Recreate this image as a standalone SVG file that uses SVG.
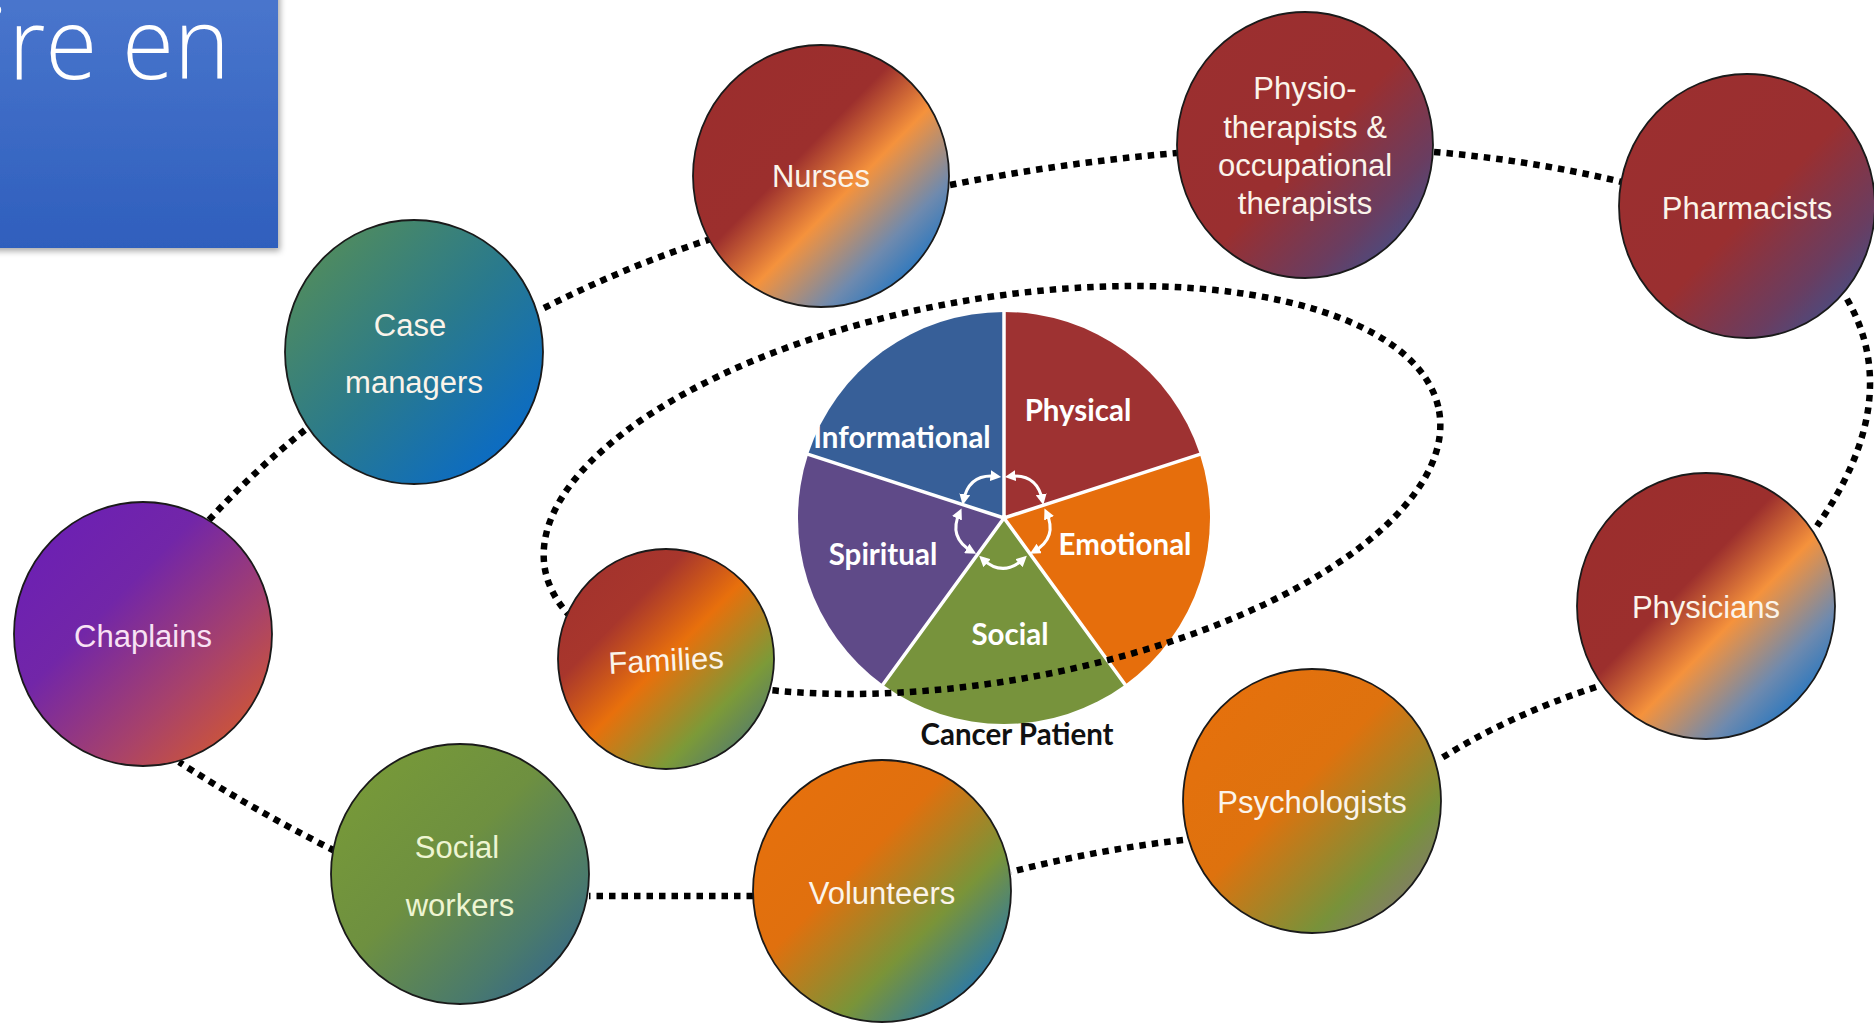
<svg xmlns="http://www.w3.org/2000/svg" width="1874" height="1024" viewBox="0 0 1874 1024">
<defs>
<style>
.node-ring{stroke:#1a1a1a;stroke-width:1.8}
.lbl{font-family:"Liberation Sans",Arial,sans-serif;font-size:31px;fill:#fbf4ea;text-anchor:middle}
.pie-lbl{font-family:Lato,"Open Sans",sans-serif;font-weight:bold;font-size:29.5px;fill:#ffffff;text-anchor:middle}
.conn{fill:none;stroke:#000;stroke-width:6.5;stroke-dasharray:6.5 6}
.sep{stroke:#ffffff;stroke-width:3.5;fill:none}
.arr{fill:none;stroke:#ffffff;stroke-width:3;marker-start:url(#ah);marker-end:url(#ah)}
</style>
<marker id="ah" viewBox="0 0 10 10" refX="6" refY="5" markerWidth="3.6" markerHeight="3.6" orient="auto-start-reverse" markerUnits="strokeWidth">
<path d="M0,0 L10,5 L0,10 z" fill="#ffffff"/>
</marker>
<linearGradient id="gTitle" x1="0" y1="0" x2="0" y2="1">
<stop offset="0" stop-color="#4a76cd"/>
<stop offset="1" stop-color="#2f5fbd"/>
</linearGradient>
<filter id="shadow" x="-10%" y="-10%" width="130%" height="130%">
<feDropShadow dx="2" dy="3" stdDeviation="3" flood-color="#000" flood-opacity="0.35"/>
</filter>
<linearGradient id="gRedOrangeBlue" x1="0" y1="0" x2="1" y2="1">
<stop offset="0" stop-color="#9b2d2d"/>
<stop offset="0.42" stop-color="#9c2f2d"/>
<stop offset="0.58" stop-color="#f5923c"/>
<stop offset="0.76" stop-color="#6f8aae"/>
<stop offset="0.92" stop-color="#0a6fc8"/>
<stop offset="1" stop-color="#0070cc"/>
</linearGradient>
<linearGradient id="gRedBlue" x1="0" y1="0" x2="1" y2="1">
<stop offset="0" stop-color="#9c2f2f"/>
<stop offset="0.52" stop-color="#9a2f30"/>
<stop offset="0.76" stop-color="#6a3d60"/>
<stop offset="1" stop-color="#2a5aa2"/>
</linearGradient>
<linearGradient id="gCase" x1="0" y1="0" x2="1" y2="1">
<stop offset="0" stop-color="#5c9150"/>
<stop offset="0.5" stop-color="#2a7a8c"/>
<stop offset="1" stop-color="#0066d8"/>
</linearGradient>
<linearGradient id="gChap" x1="0" y1="0" x2="1" y2="1">
<stop offset="0" stop-color="#6a1db8"/>
<stop offset="0.38" stop-color="#7226a8"/>
<stop offset="0.68" stop-color="#a8426a"/>
<stop offset="1" stop-color="#e2601c"/>
</linearGradient>
<linearGradient id="gFam" x1="0" y1="0" x2="1" y2="1">
<stop offset="0" stop-color="#a0302e"/>
<stop offset="0.3" stop-color="#a8362c"/>
<stop offset="0.5" stop-color="#e8700c"/>
<stop offset="0.74" stop-color="#7c9a38"/>
<stop offset="1" stop-color="#3a6a8e"/>
</linearGradient>
<linearGradient id="gSoc" x1="0" y1="0" x2="1" y2="1">
<stop offset="0" stop-color="#7a9c36"/>
<stop offset="0.45" stop-color="#6e9040"/>
<stop offset="0.75" stop-color="#4a7a6c"/>
<stop offset="1" stop-color="#2a5e9a"/>
</linearGradient>
<linearGradient id="gVol" x1="0" y1="0" x2="1" y2="1">
<stop offset="0" stop-color="#e8700c"/>
<stop offset="0.4" stop-color="#e0700e"/>
<stop offset="0.66" stop-color="#7a9438"/>
<stop offset="0.86" stop-color="#2f7aa2"/>
<stop offset="1" stop-color="#0070cc"/>
</linearGradient>
<linearGradient id="gPsy" x1="0" y1="0" x2="1" y2="1">
<stop offset="0" stop-color="#e8700c"/>
<stop offset="0.45" stop-color="#de720e"/>
<stop offset="0.75" stop-color="#78923a"/>
<stop offset="1" stop-color="#8a6a92"/>
</linearGradient>
</defs>

<rect width="1874" height="1024" fill="#ffffff"/>

<g id="title">
<rect x="-10" y="-10" width="288" height="258" fill="url(#gTitle)" filter="url(#shadow)"/>
<text x="-13" y="79" font-family="'Open Sans','Liberation Sans',sans-serif" font-weight="300" font-size="100" fill="#ffffff" textLength="243" lengthAdjust="spacingAndGlyphs">ire en</text>
</g>

<g id="cancer-patient">
<path d="M1004,518 L1004,312 A206,206 0 0 1 1199.9,454.3 Z" fill="#9e3232"/>
<path d="M1004,518 L1199.9,454.3 A206,206 0 0 1 1125.1,684.7 Z" fill="#e66e0c"/>
<path d="M1004,518 L1125.1,684.7 A206,206 0 0 1 882.9,684.7 Z" fill="#77933c"/>
<path d="M1004,518 L882.9,684.7 A206,206 0 0 1 808.1,454.3 Z" fill="#5f4a88"/>
<path d="M1004,518 L808.1,454.3 A206,206 0 0 1 1004,312 Z" fill="#375f98"/>
<path class="sep" d="M1004,518 L1004,310 M1004,518 L1202,453.7 M1004,518 L1126.3,686.3 M1004,518 L881.7,686.3 M1004,518 L806,453.7"/>
<text class="pie-lbl" x="1078" y="421">Physical</text>
<text class="pie-lbl" x="902" y="448">Informational</text>
<text class="pie-lbl" x="1125" y="555">Emotional</text>
<text class="pie-lbl" x="883" y="565">Spiritual</text>
<text class="pie-lbl" x="1010" y="645">Social</text>
<path class="arr" d="M963.5,500.7 Q968.9,473.1 996.9,476.4"/>
<path class="arr" d="M1009.1,476.4 Q1037.1,473.1 1042.5,500.7"/>
<path class="arr" d="M1046.3,512.4 Q1058.2,537.9 1033.6,551.6"/>
<path class="arr" d="M1023.7,558.8 Q1003,578 982.3,558.8"/>
<path class="arr" d="M972.4,551.6 Q947.8,537.9 959.7,512.4"/>
<text x="1017" y="745" font-family="Lato,'Open Sans',sans-serif" font-weight="bold" font-size="29.5" fill="#111111" text-anchor="middle">Cancer Patient</text>
</g>

<g id="connectors">
<path class="conn" d="M544,308 Q627,266 711,239"/>
<path class="conn" d="M950,185 Q1060,163 1177,153"/>
<path class="conn" d="M1434,152 Q1530,160 1622,182"/>
<path class="conn" d="M1847,299 Q1905,400 1817,526"/>
<path class="conn" d="M1596,687 Q1510,715 1440,759"/>
<path class="conn" d="M1183,840 Q1095,850 1011,872"/>
<path class="conn" d="M753,896 L589,896"/>
<path class="conn" d="M335,851 Q250,808 179,762"/>
<path class="conn" d="M209,520 Q255,470 305,430"/>
<ellipse class="conn" cx="992" cy="490" rx="454" ry="191" transform="rotate(-10 992 490)"/>
</g>

<g id="nurses">
<ellipse class="node-ring" cx="821" cy="176" rx="128" ry="131" fill="url(#gRedOrangeBlue)"/>
<text class="lbl" x="821" y="187">Nurses</text>
</g>
<g id="physiotherapists">
<ellipse class="node-ring" cx="1305" cy="145" rx="128" ry="133" fill="url(#gRedBlue)"/>
<text class="lbl" x="1305" y="99">Physio-</text>
<text class="lbl" x="1305" y="138">therapists &amp;</text>
<text class="lbl" x="1305" y="176">occupational</text>
<text class="lbl" x="1305" y="214">therapists</text>
</g>
<g id="pharmacists">
<ellipse class="node-ring" cx="1747" cy="206" rx="128" ry="132" fill="url(#gRedBlue)"/>
<text class="lbl" x="1747" y="219">Pharmacists</text>
</g>
<g id="case-managers">
<ellipse class="node-ring" cx="414" cy="352" rx="129" ry="132" fill="url(#gCase)"/>
<text class="lbl" x="410" y="336">Case</text>
<text class="lbl" x="414" y="393">managers</text>
</g>
<g id="chaplains">
<ellipse class="node-ring" cx="143" cy="634" rx="129" ry="132" fill="url(#gChap)"/>
<text class="lbl" x="143" y="647" style="fill:#f8e2f4">Chaplains</text>
</g>
<g id="families">
<ellipse class="node-ring" cx="666" cy="659" rx="108" ry="110" fill="url(#gFam)"/>
<text class="lbl" x="666" y="671" transform="rotate(-3 666 660)">Families</text>
</g>
<g id="social-workers">
<ellipse class="node-ring" cx="460" cy="874" rx="129" ry="130" fill="url(#gSoc)"/>
<text class="lbl" x="457" y="858" style="fill:#eef5d2">Social</text>
<text class="lbl" x="460" y="916" style="fill:#eef5d2">workers</text>
</g>
<g id="volunteers">
<ellipse class="node-ring" cx="882" cy="891" rx="129" ry="131" fill="url(#gVol)"/>
<text class="lbl" x="882" y="904">Volunteers</text>
</g>
<g id="psychologists">
<ellipse class="node-ring" cx="1312" cy="801" rx="129" ry="132" fill="url(#gPsy)"/>
<text class="lbl" x="1312" y="813">Psychologists</text>
</g>
<g id="physicians">
<ellipse class="node-ring" cx="1706" cy="606" rx="129" ry="133" fill="url(#gRedOrangeBlue)"/>
<text class="lbl" x="1706" y="618">Physicians</text>
</g>
</svg>
